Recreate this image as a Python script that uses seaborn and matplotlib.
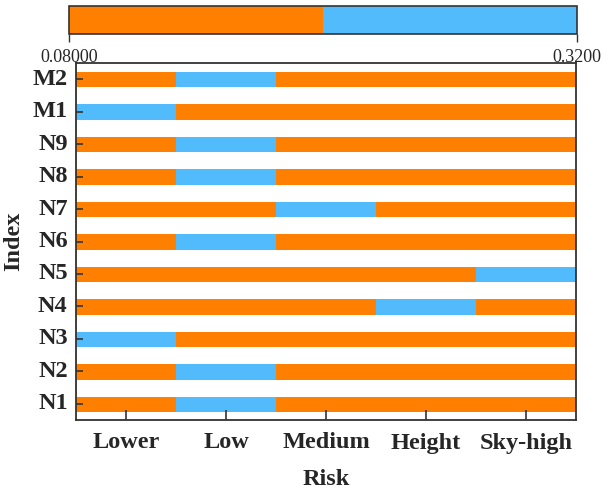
import numpy as np
import pandas as pd
import seaborn as sns
import matplotlib
matplotlib.use("Agg")
import matplotlib.pyplot as plt
from matplotlib.colors import ListedColormap

# ---- data ----
risk_levels = ["Lower", "Low", "Medium", "Height", "Sky-high"]
indices = ["M2", "M1", "N9", "N8", "N7", "N6", "N5", "N4", "N3", "N2", "N1"]
M2 = [0.08, 0.32, 0.08, 0.08, 0.08]
M1 = [0.32, 0.08, 0.08, 0.08, 0.08]
N9 = [0.08, 0.32, 0.08, 0.08, 0.08]
N8 = [0.08, 0.32, 0.08, 0.08, 0.08]
N7 = [0.08, 0.08, 0.32, 0.08, 0.08]
N6 = [0.08, 0.32, 0.08, 0.08, 0.08]
N5 = [0.08, 0.08, 0.08, 0.08, 0.32]
N4 = [0.08, 0.08, 0.08, 0.32, 0.08]
N3 = [0.32, 0.08, 0.08, 0.08, 0.08]
N2 = [0.08, 0.32, 0.08, 0.08, 0.08]
N1 = [0.08, 0.32, 0.08, 0.08, 0.08]
cbar_ticks = [0.08, 0.32]
cbar_ticklabels = ["0.08000", "0.3200"]

df = pd.DataFrame([M2, M1, N9, N8, N7, N6, N5, N4, N3, N2, N1],
                  index=indices, columns=risk_levels)

sns.set_style("white")
plt.rcParams["font.family"] = ["Liberation Serif", "DejaVu Serif"]

W, H = 602, 496
fig = plt.figure(figsize=(W / 100, H / 100), dpi=100)
ax = fig.add_axes([76 / W, 1 - 420 / H, 500 / W, 357 / H])
cax = fig.add_axes([69 / W, 1 - 34 / H, 508 / W, 28 / H])

cmap = ListedColormap(["#FF8000", "#52BBFC"])
sns.heatmap(df, ax=ax, cmap=cmap, vmin=0.08, vmax=0.32, cbar_ax=cax,
            cbar_kws={"orientation": "horizontal", "ticks": cbar_ticks})

# white gaps between rows
gap_px = 17
ax.hlines(np.arange(len(indices) + 1), 0, len(risk_levels), colors="white",
          linewidth=gap_px * 72 / 100, zorder=1.2)
ax.set_axisbelow(False)

edge = "#333333"
for s in ax.spines.values():
    s.set_visible(True)
    s.set_color(edge)
    s.set_linewidth(1.3)
    s.set_zorder(3)

ax.tick_params(axis="both", direction="in", length=7, width=1.2, color=edge)
ax.tick_params(axis="x", pad=9, bottom=True)
ax.tick_params(axis="y", pad=6, left=True, length=5)
ax.set_xticklabels(risk_levels, rotation=0, fontsize=17.5, fontweight="bold")
ax.set_yticklabels(indices, rotation=0, fontsize=17.5, fontweight="bold")
ax.set_xlabel("Risk", fontsize=17.5, fontweight="bold", labelpad=11)
ax.set_ylabel("Index", fontsize=17.5, fontweight="bold", labelpad=6)

# colorbar styling
cb = ax.collections[0].colorbar
cb.outline.set_visible(True)
cb.outline.set_linewidth(1.2)
cb.outline.set_edgecolor(edge)
cax.xaxis.set_ticks_position("bottom")
cax.set_xticks(cbar_ticks)
cax.set_xticklabels(cbar_ticklabels, fontsize=13)
cax.tick_params(axis="x", direction="out", length=6, width=1.0, color=edge, pad=5)

fig.savefig("out.png", dpi=100)
